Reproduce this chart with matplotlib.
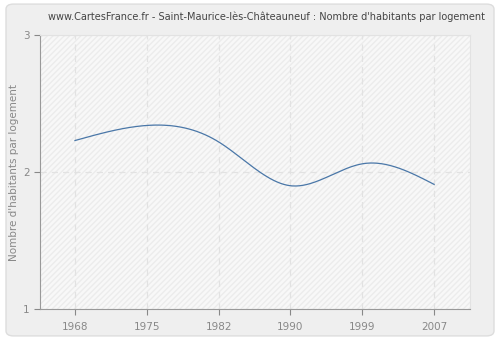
import numpy as np
import matplotlib
matplotlib.use("Agg")
import matplotlib.pyplot as plt
from matplotlib.patches import FancyBboxPatch, Rectangle

years = ["1968", "1975", "1982", "1990", "1999", "2007"]
habitants = [2.23, 2.34, 2.22, 1.90, 2.06, 1.91]
y_ticks = [1, 2, 3]
title = "www.CartesFrance.fr - Saint-Maurice-lès-Châteauneuf : Nombre d'habitants par logement"
ylabel = "Nombre d'habitants par logement"


def natural_spline(x, y, xs):
    # natural cubic spline through (x, y), evaluated at xs
    x = np.asarray(x, float)
    y = np.asarray(y, float)
    n = len(x)
    h = np.diff(x)
    A = np.zeros((n, n))
    b = np.zeros(n)
    A[0, 0] = 1
    A[-1, -1] = 1
    for i in range(1, n - 1):
        A[i, i - 1] = h[i - 1]
        A[i, i] = 2 * (h[i - 1] + h[i])
        A[i, i + 1] = h[i]
        b[i] = 3 * ((y[i + 1] - y[i]) / h[i] - (y[i] - y[i - 1]) / h[i - 1])
    c = np.linalg.solve(A, b)
    out = np.empty_like(xs)
    for k, v in enumerate(xs):
        i = min(max(np.searchsorted(x, v) - 1, 0), n - 2)
        d = v - x[i]
        bi = (y[i + 1] - y[i]) / h[i] - h[i] * (2 * c[i] + c[i + 1]) / 3
        di = (c[i + 1] - c[i]) / (3 * h[i])
        out[k] = y[i] + bi * d + c[i] * d ** 2 + di * d ** 3
    return out


fig = plt.figure(figsize=(5, 3.4), dpi=100)
fig.patch.set_facecolor("white")
fig.patches.append(FancyBboxPatch((0.012, 0.012), 0.976, 0.976, boxstyle="round,pad=0,rounding_size=0.015",
                                  transform=fig.transFigure, facecolor="#efefef", edgecolor="#dddddd",
                                  linewidth=1, zorder=-1))

ax = fig.add_axes([0.08, 0.091, 0.86, 0.806])
ax.set_zorder(1)
ax.set_facecolor("#f8f8f8")
ax.add_patch(Rectangle((0, 0), 1, 1, transform=ax.transAxes, facecolor="none", edgecolor="#ececec",
                       hatch="//////", linewidth=0, zorder=0))

# census years are placed at equal spacing
pos = np.arange(len(years))
xs = np.linspace(pos[0], pos[-1], 300)
ax.plot(xs, natural_spline(pos, habitants, xs), color="#4a77a8", linewidth=0.9, zorder=3)

ax.set_xlim(-0.487, 5.5)
ax.set_ylim(1, 3)
ax.set_xticks(pos)
ax.set_xticklabels(years)
ax.set_yticks(y_ticks)
ax.grid(True, color="#e2e2e2", linestyle=(0, (5, 4)), linewidth=0.9)
ax.set_axisbelow(True)

for s in ["top", "right"]:
    ax.spines[s].set_color("#e2e2e2")
for s in ["left", "bottom"]:
    ax.spines[s].set_color("#999999")
ax.tick_params(colors="#888888", labelsize=7.5, length=4, width=0.8)
ax.tick_params(axis="x", pad=5)
ax.set_ylabel(ylabel, color="#888888", fontsize=7.5, labelpad=3)
fig.text(0.532, 0.95, title, ha="center", va="center", fontsize=7, color="#444444")

fig.savefig("out.png", dpi=100)
